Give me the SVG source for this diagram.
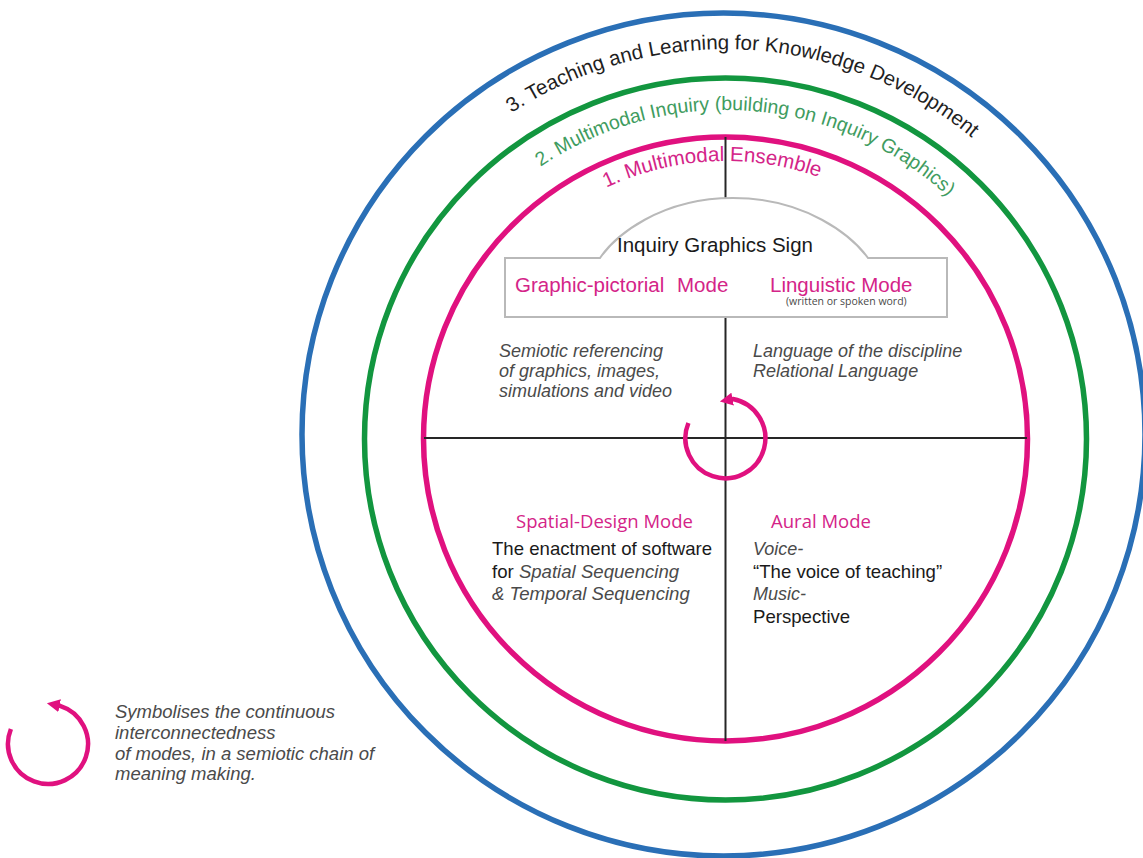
<svg xmlns="http://www.w3.org/2000/svg" width="1143" height="858" viewBox="0 0 1143 858">
  <style>
    .ring { fill: none; stroke-width: 5.5; }
    .axis { stroke: #262626; stroke-width: 2; fill: none; }
    .arcText { font-family: "Liberation Sans", Arial, sans-serif; font-size: 20.5px; }
    .modeHead { font-family: "Liberation Sans", Arial, sans-serif; font-size: 20.5px; fill: #d42488; }
    .modeHead2 { font-family: "Open Sans", "Liberation Sans", sans-serif; font-size: 18.5px; fill: #d42488; }
    .note { font-family: "Liberation Sans", Arial, sans-serif; font-size: 18px; font-style: italic; fill: #4a4a4a; }
    .legendNote { font-size: 18.5px; }
    .plain { font-family: "Liberation Sans", Arial, sans-serif; font-size: 18.6px; fill: #1a1a1a; }
    .cycle { fill: none; stroke: #e0117f; stroke-width: 4.5; marker-end: url(#cycleHead); }
  </style>
  <defs>
    <marker id="cycleHead" viewBox="0 0 12 12" markerUnits="userSpaceOnUse" markerWidth="13" markerHeight="13" refX="2" refY="6" orient="auto">
      <path d="M0,0 L12,6 L0,12 z" fill="#e0117f"/>
    </marker>
    <path id="arc3" d="M 337,437 A 388 388 0 0 1 1113,437"/>
    <path id="arc2" d="M 396.5,439 A 329 329 0 0 1 1054.5,439"/>
    <path id="arc1" d="M 447.5,439 A 278 278 0 0 1 1003.5,439"/>
  </defs>

  <rect width="1143" height="858" fill="#ffffff"/>

  <!-- concentric rings -->
  <g id="ring3">
    <circle class="ring" cx="723.5" cy="434.5" r="421.5" stroke="#2a6fb6"/>
    <text class="arcText" fill="#1f1f1f" text-anchor="middle"><textPath href="#arc3" startOffset="629.8">3. Teaching and Learning for Knowledge Development</textPath></text>
  </g>
  <g id="ring2">
    <circle class="ring" cx="725.5" cy="439" r="361" stroke="#12963f"/>
    <text class="arcText" fill="#3f9c60" style="font-size:19.5px" text-anchor="middle"><textPath href="#arc2" startOffset="540.6">2. Multimodal Inquiry (building on Inquiry Graphics)</textPath></text>
  </g>
  <g id="ring1">
    <circle class="ring" cx="725.5" cy="439" r="302" stroke="#e0117f"/>
    <text class="arcText" fill="#d42488" text-anchor="middle"><textPath href="#arc1" startOffset="422.6">1. Multimodal Ensemble</textPath></text>
  </g>

  <!-- quadrant axes -->
  <g id="axes">
    <line class="axis" x1="424" y1="438" x2="1027" y2="438"/>
    <line class="axis" x1="725.5" y1="137" x2="725.5" y2="199"/>
    <line class="axis" x1="725.5" y1="317" x2="725.5" y2="741"/>
  </g>

  <!-- sign box with dome -->
  <g id="sign">
    <path d="M 505,258 H 600 C 615,236 660,198 733,198 C 806,198 852,236 868,258 H 947 V 317 H 505 Z" fill="#ffffff" stroke="#b9b9b9" stroke-width="2"/>
    <text x="715" y="252" text-anchor="middle" font-family="Liberation Sans, Arial, sans-serif" font-size="20.5" fill="#1a1a1a">Inquiry Graphics Sign</text>
    <text class="modeHead" x="515" y="292">Graphic-pictorial<tspan x="677">Mode</tspan></text>
    <text class="modeHead" x="770" y="292">Linguistic Mode</text>
    <text x="786" y="305" font-family="Open Sans, Liberation Sans, sans-serif" font-size="10.5" fill="#4a4a4a">(written or spoken word)</text>
  </g>

  <!-- upper left quadrant -->
  <g id="graphic-pictorial">
    <text class="note" x="499" y="357">Semiotic referencing</text>
    <text class="note" x="499" y="377">of graphics, images,</text>
    <text class="note" x="499" y="397">simulations and video</text>
  </g>

  <!-- upper right quadrant -->
  <g id="linguistic">
    <text class="note" x="753" y="357">Language of the discipline</text>
    <text class="note" x="753" y="377">Relational Language</text>
  </g>

  <!-- lower left quadrant -->
  <g id="spatial-design">
    <text class="modeHead2" x="604.5" y="528" text-anchor="middle">Spatial-Design Mode</text>
    <text class="plain" x="492" y="555">The enactment of software</text>
    <text class="plain" x="492" y="578">for <tspan font-style="italic" fill="#4a4a4a">Spatial Sequencing</tspan></text>
    <text class="note" x="492" y="600" style="font-size:18.6px">&amp; Temporal Sequencing</text>
  </g>

  <!-- lower right quadrant -->
  <g id="aural">
    <text class="modeHead2" x="821" y="528" text-anchor="middle">Aural Mode</text>
    <text class="note" x="753" y="555">Voice-</text>
    <text class="plain" x="753" y="578">“The voice of teaching”</text>
    <text class="note" x="753" y="600">Music-</text>
    <text class="plain" x="753" y="623">Perspective</text>
  </g>

  <!-- cycle symbol at the centre -->
  <g id="connectors">
    <path class="cycle" d="M 688.4,423 A 40 40 0 1 0 733,399 L 730.5,399.5"/>
  </g>

  <g id="legend">
    <path class="cycle" d="M 10.9,729 A 40 40 0 1 0 60,705.8 L 57.5,705.3"/>
    <text class="note legendNote" x="115" y="718">Symbolises the continuous</text>
    <text class="note legendNote" x="115" y="739">interconnectedness</text>
    <text class="note legendNote" x="115" y="760">of modes, in a semiotic chain of</text>
    <text class="note legendNote" x="115" y="780">meaning making.</text>
  </g>
</svg>
